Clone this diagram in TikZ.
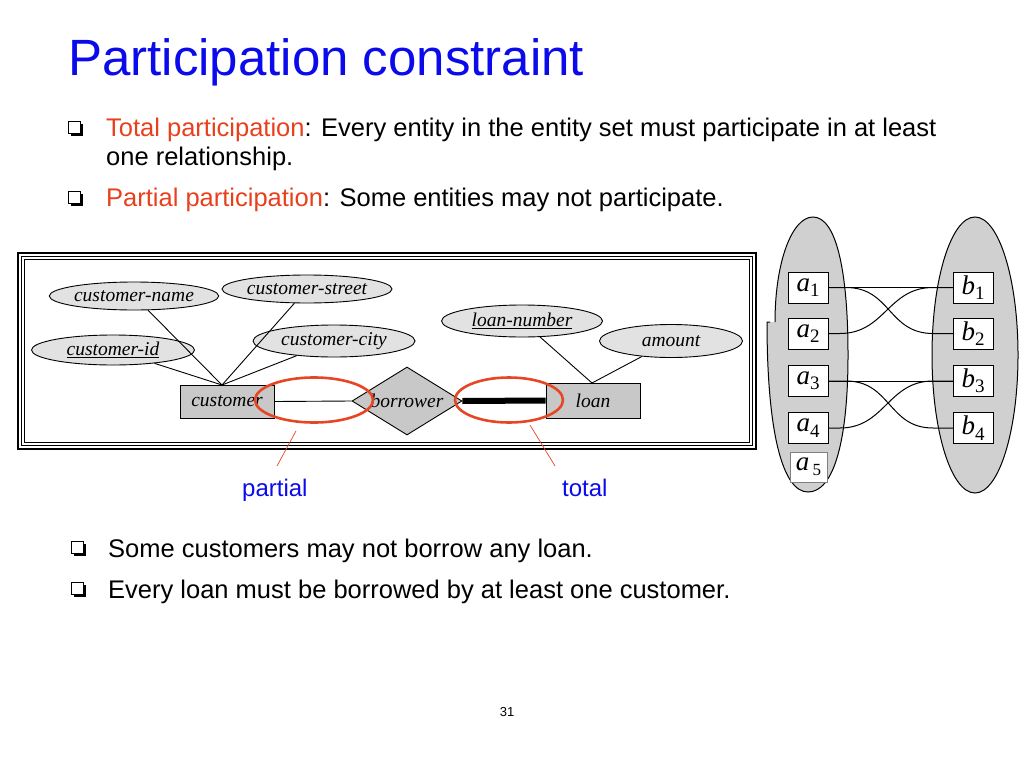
\documentclass[tikz,border=0pt]{standalone}
\usepackage{fontspec}
\newfontfamily\slide{Liberation Sans}
\newfontfamily\erfont{Liberation Serif}
\usetikzlibrary{shapes.geometric,shadows,calc}
\definecolor{titleblue}{RGB}{10,10,235}
\definecolor{redt}{RGB}{232,64,28}
\definecolor{redc}{RGB}{230,70,35}
\definecolor{entgray}{RGB}{200,200,200}
\definecolor{attrgray}{RGB}{226,226,226}
\definecolor{setgray}{RGB}{208,208,208}
\newcommand\elem[2]{{\itshape #1}\raisebox{-0.2em}{\fontsize{19}{20}\selectfont\upshape #2}}
\begin{document}
\begin{tikzpicture}[x=1pt,y=-1pt,
  slidetxt/.style={font=\slide\fontsize{25.5}{30}\selectfont, anchor=base west, inner sep=0},
  bul/.style={draw=black, fill=white, minimum size=12pt, inner sep=0, line width=1pt,
     drop shadow={shadow xshift=2.5pt, shadow yshift=-2.5pt, opacity=1, fill=black}},
  entity/.style={draw, fill=entgray, rectangle, inner sep=0, line width=0.9pt,
     font=\erfont\itshape\fontsize{19.5}{21}\selectfont},
  attr/.style={draw, fill=attrgray, ellipse, inner sep=0, line width=0.9pt,
     font=\erfont\itshape\fontsize{19.5}{21}\selectfont},
  rel/.style={draw, fill=entgray, diamond, aspect=1.6, inner sep=0, line width=0.9pt,
     font=\erfont\itshape\fontsize{19.5}{21}\selectfont},
  conn/.style={line width=0.9pt},
  redell/.style={draw=redc, ellipse, line width=2.6pt, inner sep=0},
  ptr/.style={draw=redc, line width=0.7pt},
  box/.style={draw, fill=white, minimum width=40pt, minimum height=31pt, inner sep=0,
     line width=1pt, font=\erfont\fontsize{27}{29}\selectfont},
  mapl/.style={line width=1pt},
  lab/.style={font=\slide\fontsize{24}{28}\selectfont, text=titleblue, anchor=base west, inner sep=0}
]
\useasboundingbox (0,0) rectangle (1024,768);

% title
\node[anchor=base west, font=\slide\fontsize{51}{56}\selectfont, text=titleblue, inner sep=0]
  (title) at (68,75) {Participation constraint};

% top bullets
\node[bul] (bu1) at (74,127) {};
\node[slidetxt] (t1) at (106,136) {{\color{redt}Total participation}: Every entity in the entity set must participate in at least};
\node[slidetxt] (t1b) at (106,165) {one relationship.};
\node[bul] (bu2) at (74,197) {};
\node[slidetxt] (t2) at (106,206) {{\color{redt}Partial participation}: Some entities may not participate.};

% ER frame
\draw[line width=2.6pt] (18,253) rectangle (756,449);
\draw[line width=0.9pt] (21.5,256.5) rectangle (752.5,445.5);
\draw[line width=1.4pt] (24.5,259.5) rectangle (749.5,442.5);

% attributes
\node[attr, minimum width=162pt, minimum height=28pt] (cname) at (134,296) {customer-name};
\node[attr, minimum width=161pt, minimum height=28pt] (cstreet) at (307,289) {customer-street};
\node[attr, minimum width=163pt, minimum height=30pt] (cid) at (113,350) {\underline{customer-id}};
\node[attr, minimum width=162pt, minimum height=32pt] (ccity) at (334,341) {customer-city};
\node[attr, minimum width=161pt, minimum height=32pt] (lnum) at (522,321) {\underline{loan-number}};
\node[attr, minimum width=143pt, minimum height=33pt] (amount) at (671,341) {amount};

% entities and relationship
\node[entity, minimum width=94pt, minimum height=33pt] (cust) at (227,401.5) {customer};
\node[entity, minimum width=94pt, minimum height=35pt] (loan) at (593,400.5) {loan};
\node[rel, minimum width=110pt, minimum height=68pt] (borr) at (407,401) {borrower};

\coordinate (cT) at (222,385);
\coordinate (lT) at (592,383);
\draw[conn] (cname) -- (cT);
\draw[conn] (cstreet) -- (cT);
\draw[conn] (cid) -- (cT);
\draw[conn] (ccity) -- (cT);
\draw[conn] (lnum) -- (lT);
\draw[conn] (amount) -- (lT);

\draw[conn] (cust.east) -- (borr.west);
\draw[line width=6pt] (borr.east) -- (loan.west);

% red markers
\node[redell, minimum width=118pt, minimum height=45pt] (pe) at (314,400) {};
\node[redell, minimum width=108pt, minimum height=45pt] (te) at (509,400) {};
\coordinate (p1a) at (296,431);
\coordinate (p1b) at (277,466);
\coordinate (p2a) at (530,425);
\coordinate (p2b) at (555,466);
\draw[ptr] (p1a) -- (p1b);
\draw[ptr] (p2a) -- (p2b);
\node[lab] (partial) at (242,496) {partial};
\node[lab] (total) at (562,496) {total};

% right figure: entity sets
\fill[setgray] (775,322) .. controls (775,262) and (792,217) .. (813,217)
  .. controls (836,217) and (848,270) .. (848,355)
  .. controls (848,440) and (834,492) .. (808,492)
  .. controls (782,492) and (767,430) .. (767,322) -- cycle;
\draw[line width=1pt] (775,322) .. controls (775,262) and (792,217) .. (813,217)
  .. controls (836,217) and (848,270) .. (848,355)
  .. controls (848,440) and (834,492) .. (808,492)
  .. controls (782,492) and (767,430) .. (767,322) -- (770,322);
\node[ellipse, draw, fill=setgray, line width=1pt, minimum width=86pt, minimum height=276pt, inner sep=0] (Bset) at (975,355) {};

\coordinate (a1) at (808,287.5);
\coordinate (a2) at (808,333.5);
\coordinate (a3) at (808,381);
\coordinate (a4) at (808,428);
\coordinate (b1) at (973,287.5);
\coordinate (b2) at (973,333.5);
\coordinate (b3) at (973,381);
\coordinate (b4) at (973,428);
\coordinate (a1e) at (828,287.5);
\coordinate (a2e) at (828,333.5);
\coordinate (a3e) at (828,381);
\coordinate (a4e) at (828,428);
\coordinate (b1w) at (953,287.5);
\coordinate (b2w) at (953,333.5);
\coordinate (b3w) at (953,381);
\coordinate (b4w) at (953,428);

\draw[mapl] (a1e) -- (b1w);
\draw[mapl] (a1e) -- ++(18,0) .. controls ++(45,0) and ($(b2w)+(-65,0)$) .. ($(b2w)+(-20,0)$) -- (b2w);
\draw[mapl] (a2e) -- ++(12,0) .. controls ++(45,0) and ($(b1w)+(-65,0)$) .. ($(b1w)+(-20,0)$) -- (b1w);
\draw[mapl] (a3e) -- (b3w);
\draw[mapl] (a3e) -- ++(18,0) .. controls ++(45,0) and ($(b4w)+(-65,0)$) .. ($(b4w)+(-20,0)$) -- (b4w);
\draw[mapl] (a4e) -- ++(12,0) .. controls ++(45,0) and ($(b3w)+(-65,0)$) .. ($(b3w)+(-20,0)$) -- (b3w);

\node[box] (A1) at (a1) {\elem{a}{1}};
\node[box] (A2) at (a2) {\elem{a}{2}};
\node[box] (A3) at (a3) {\elem{a}{3}};
\node[box] (A4) at (a4) {\elem{a}{4}};
\node[box, draw=gray, line width=0.6pt, minimum width=37pt, minimum height=30pt] (A5) at (808.5,467) {\elem{a}{\,\fontsize{17}{18}\selectfont 5}};
\node[box] (B1) at (b1) {\elem{b}{1}};
\node[box] (B2) at (b2) {\elem{b}{2}};
\node[box] (B3) at (b3) {\elem{b}{3}};
\node[box] (B4) at (b4) {\elem{b}{4}};

% lower bullets
\node[bul] (bu3) at (77,547) {};
\node[slidetxt] (t3) at (108,557) {Some customers may not borrow any loan.};
\node[bul] (bu4) at (77,588) {};
\node[slidetxt] (t4) at (108,598) {Every loan must be borrowed by at least one customer.};

% page number
\node[font=\slide\fontsize{13}{15}\selectfont, inner sep=0] (pg) at (507,712) {31};
\end{tikzpicture}
\end{document}
